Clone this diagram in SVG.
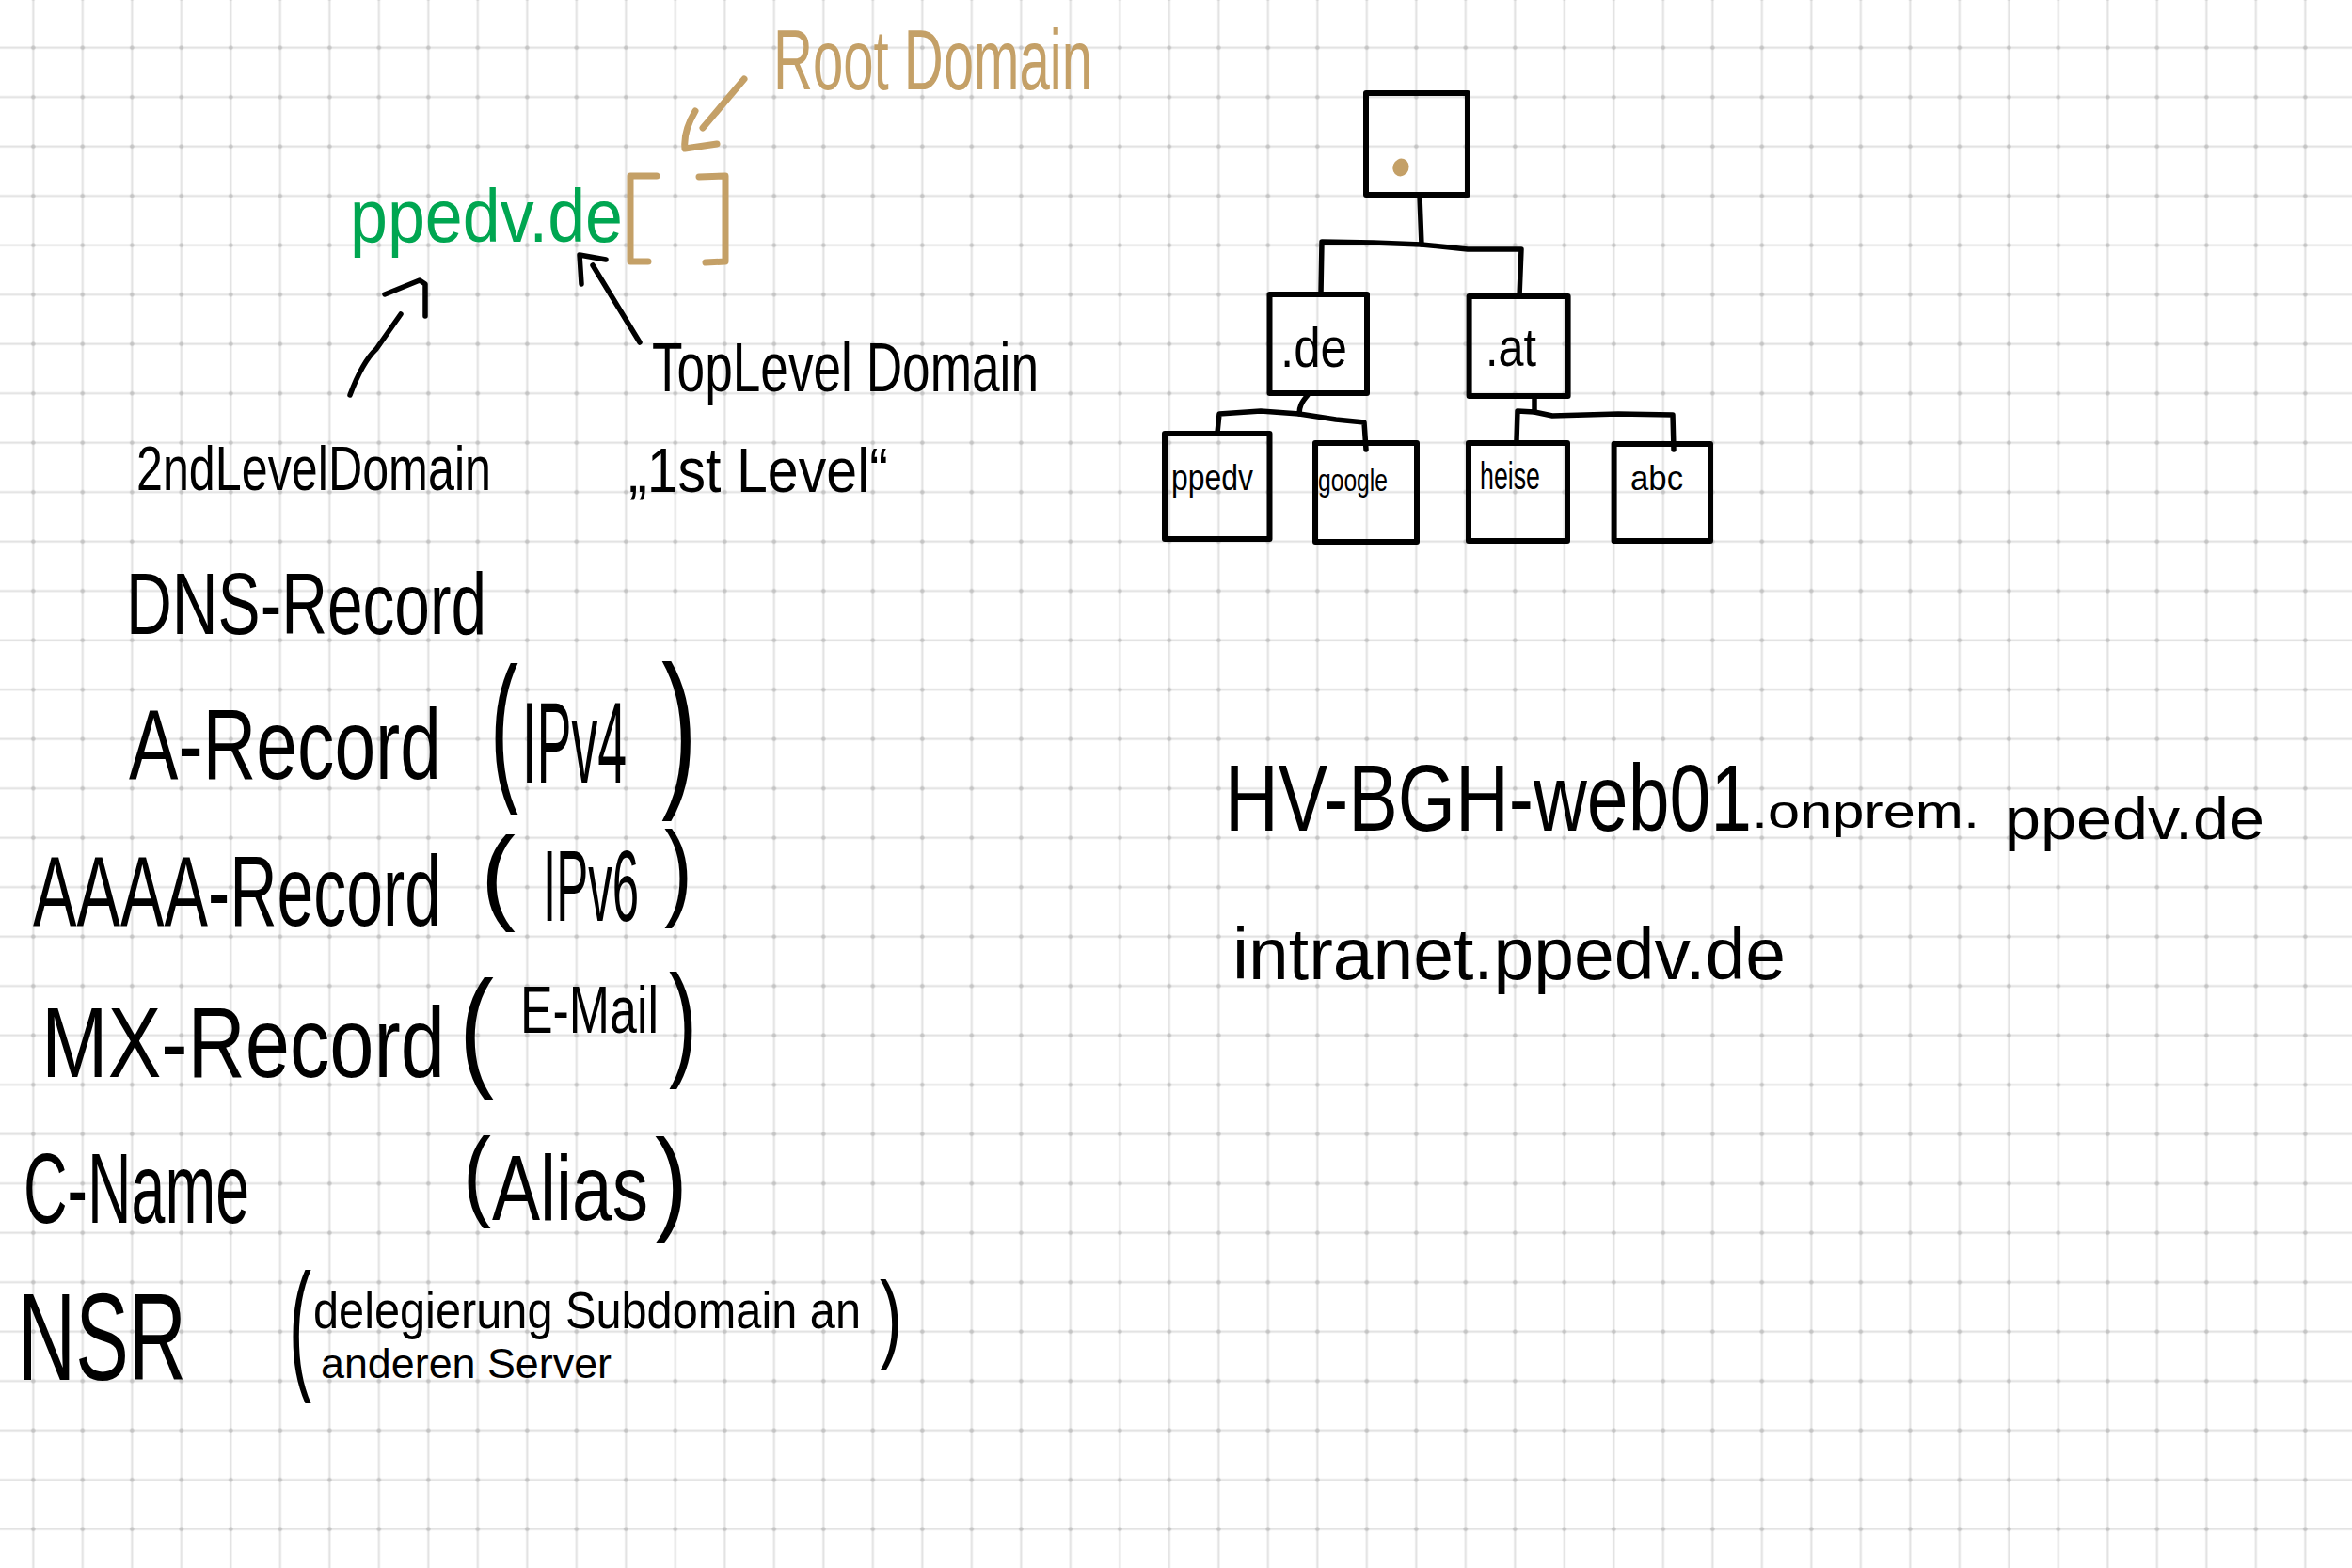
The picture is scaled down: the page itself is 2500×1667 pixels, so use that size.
<svg xmlns="http://www.w3.org/2000/svg" width="2500" height="1667" viewBox="0 0 2500 1667">
<style>
.h{font-family:"Liberation Sans",Arial,sans-serif;fill:#000}
.tan{fill:#c4a067}
.grn{fill:#00a651}
.box{fill:none;stroke:#000;stroke-width:6;stroke-linejoin:round;stroke-linecap:round}
.ln{fill:none;stroke:#000;stroke-width:5.5;stroke-linecap:round;stroke-linejoin:round}
.tanln{fill:none;stroke:#c4a067;stroke-width:7;stroke-linecap:round;stroke-linejoin:round}
</style>
<defs>
<pattern id="grid" x="9.05" y="24.45" width="52.5" height="52.5" patternUnits="userSpaceOnUse">
<path d="M0,26.25H52.5M26.25,0V52.5" stroke="#e0e0e0" stroke-width="2" fill="none"/>
<circle cx="26.25" cy="26.25" r="2.3" fill="#c4c4c4"/>
</pattern>
</defs>
<rect width="2500" height="1667" fill="#fff"/>
<rect width="2500" height="1667" fill="url(#grid)"/>

<g id="root-domain-label">
<text class="h tan" x="822" y="95" font-size="58" textLength="339" lengthAdjust="spacingAndGlyphs" transform="matrix(1 0 0 1.58 0 -55.1)">Root Domain</text>
</g>
<g id="domain-ppedv">
<text class="h grn" x="372" y="257" font-size="70.5" textLength="290" lengthAdjust="spacingAndGlyphs" transform="matrix(1 0 0 1.135 0 -34.7)">ppedv.de</text>
</g>
<g id="root-brackets">
<path class="tanln" d="M698,187 L670,187 L670,278 L689,278 M743,188 L771,187 L771,278 L750,279"/>
</g>
<g id="tld-label">
<text class="h" x="693" y="416" font-size="52.4" textLength="411" lengthAdjust="spacingAndGlyphs" transform="matrix(1 0 0 1.41 0 -170.6)">TopLevel Domain</text>
</g>
<g id="first-level-label">
<text class="h" x="668" y="523" font-size="59" textLength="276" lengthAdjust="spacingAndGlyphs" transform="matrix(1 0 0 1.117 0 -61.2)">„1st Level“</text>
</g>
<g id="second-level-label">
<text class="h" x="145" y="521" font-size="50.2" textLength="377" lengthAdjust="spacingAndGlyphs" transform="matrix(1 0 0 1.31 0 -161.5)">2ndLevelDomain</text>
</g>

<g id="connectors">
<path class="tanln" stroke-width="6" d="M791,84 L747,136 M739,118 Q726,140 728,158 L762,153"/>
<path class="ln" d="M372,420 Q385,385 400,371 L426,334 M409,313 L446,298 L452,302 L452,336"/>
<path class="ln" d="M680,364 L630,282 M618,302 L616,271 L644,276"/>
<path class="ln" d="M1509,209 L1511,260 L1460,258 L1405,257 L1404,312"/>
<path class="ln" d="M1511,260 L1560,265 L1617,265 L1615,315"/>
<path class="ln" d="M1390,420 C1383,428 1381,433 1381,440 L1340,437 L1296,440 L1294,460"/>
<path class="ln" d="M1381,440 L1420,446 L1450,449 L1452,478"/>
<path class="ln" d="M1631,422 L1631,438 L1613,437 L1612,468"/>
<path class="ln" d="M1631,438 L1650,442 L1720,440 L1778,441 L1779,478"/>
</g>

<g id="node-root">
<rect class="box" x="1452" y="99" width="108" height="108"/>
<ellipse cx="1489" cy="178" rx="8.5" ry="9.5" transform="rotate(20 1489 178)" fill="#c4a067"/>
</g>
<g id="node-de">
<rect class="box" x="1349.5" y="313" width="103.5" height="105"/>
<text class="h" x="1361" y="390" font-size="60" textLength="71" lengthAdjust="spacingAndGlyphs">.de</text>
</g>
<g id="node-at">
<rect class="box" x="1561.6" y="315" width="105" height="106"/>
<text class="h" x="1579" y="389" font-size="58" textLength="54" lengthAdjust="spacingAndGlyphs">.at</text>
</g>
<g id="node-ppedv">
<rect class="box" x="1238" y="461" width="111.5" height="112"/>
<text class="h" x="1245" y="521" font-size="38" textLength="87" lengthAdjust="spacingAndGlyphs">ppedv</text>
</g>
<g id="node-google">
<rect class="box" x="1398" y="471" width="108" height="105"/>
<text class="h" x="1401" y="522" font-size="34" textLength="74" lengthAdjust="spacingAndGlyphs">google</text>
</g>
<g id="node-heise">
<rect class="box" x="1561" y="471" width="105" height="104"/>
<text class="h" x="1573" y="520" font-size="40" textLength="64" lengthAdjust="spacingAndGlyphs">heise</text>
</g>
<g id="node-abc">
<rect class="box" x="1715.6" y="472" width="102.4" height="103"/>
<text class="h" x="1733" y="521" font-size="36" textLength="56" lengthAdjust="spacingAndGlyphs">abc</text>
</g>

<g id="dns-record-title">
<text class="h" x="134" y="674" font-size="67.5" textLength="383" lengthAdjust="spacingAndGlyphs" transform="matrix(1 0 0 1.363 0 -244.7)">DNS-Record</text>
</g>
<g id="a-record">
<text class="h" x="137" y="828" font-size="78.6" textLength="332" lengthAdjust="spacingAndGlyphs" transform="matrix(1 0 0 1.336 0 -278.2)">A-Record</text>
<text class="h" x="521" y="830" font-size="90" textLength="30" lengthAdjust="spacingAndGlyphs" transform="matrix(1 0 0 1.911 0 -756.1)">(</text>
<text class="h" x="555" y="832" font-size="55.5" textLength="111" lengthAdjust="spacingAndGlyphs" transform="matrix(1 0 0 2.2 0 -998.4)">IPv4</text>
<text class="h" x="703" y="835" font-size="114" textLength="38" lengthAdjust="spacingAndGlyphs" transform="matrix(1 0 0 1.6 0 -501)">)</text>
</g>
<g id="aaaa-record">
<text class="h" x="35" y="984" font-size="69.7" textLength="434" lengthAdjust="spacingAndGlyphs" transform="matrix(1 0 0 1.506 0 -497.9)">AAAA-Record</text>
<text class="h" x="511" y="968" font-size="112" textLength="37" lengthAdjust="spacingAndGlyphs">(</text>
<text class="h" x="577" y="979" font-size="51" textLength="102" lengthAdjust="spacingAndGlyphs" transform="matrix(1 0 0 2.11 0 -1086.7)">IPv6</text>
<text class="h" x="706" y="963" font-size="90" textLength="30" lengthAdjust="spacingAndGlyphs" transform="matrix(1 0 0 1.256 0 -246.5)">)</text>
</g>
<g id="mx-record">
<text class="h" x="44" y="1145" font-size="84.8" textLength="429" lengthAdjust="spacingAndGlyphs" transform="matrix(1 0 0 1.237 0 -271.4)">MX-Record</text>
<text class="h" x="488" y="1140" font-size="111" textLength="37" lengthAdjust="spacingAndGlyphs" transform="matrix(1 0 0 1.26 0 -296.4)">(</text>
<text class="h" x="553" y="1098" font-size="51.9" textLength="147" lengthAdjust="spacingAndGlyphs" transform="matrix(1 0 0 1.349 0 -383.2)">E-Mail</text>
<text class="h" x="711" y="1130" font-size="90" textLength="30" lengthAdjust="spacingAndGlyphs" transform="matrix(1 0 0 1.478 0 -540.1)">)</text>
</g>
<g id="cname-record">
<text class="h" x="25" y="1300" font-size="64.5" textLength="240" lengthAdjust="spacingAndGlyphs" transform="matrix(1 0 0 1.628 0 -816.4)">C-Name</text>
<text class="h" x="492" y="1284" font-size="90" textLength="30" lengthAdjust="spacingAndGlyphs" transform="matrix(1 0 0 1.178 0 -228.6)">(</text>
<text class="h" x="523" y="1297" font-size="76.6" textLength="166" lengthAdjust="spacingAndGlyphs" transform="matrix(1 0 0 1.279 0 -361.9)">Alias</text>
<text class="h" x="696" y="1297" font-size="105" textLength="35" lengthAdjust="spacingAndGlyphs" transform="matrix(1 0 0 1.162 0 -210.1)">)</text>
</g>
<g id="nsr-record">
<text class="h" x="19" y="1467" font-size="84.8" textLength="179" lengthAdjust="spacingAndGlyphs" transform="matrix(1 0 0 1.557 0 -817.1)">NSR</text>
<text class="h" x="307" y="1460" font-size="72" textLength="24" lengthAdjust="spacingAndGlyphs" transform="matrix(1 0 0 2.125 0 -1642.5)">(</text>
<text class="h" x="333" y="1412" font-size="48.8" textLength="582" lengthAdjust="spacingAndGlyphs" transform="matrix(1 0 0 1.148 0 -209)">delegierung Subdomain an</text>
<text class="h" x="341" y="1465" font-size="44" textLength="309" lengthAdjust="spacingAndGlyphs">anderen Server</text>
<text class="h" x="935" y="1435" font-size="72" textLength="24" lengthAdjust="spacingAndGlyphs" transform="matrix(1 0 0 1.43 0 -617.1)">)</text>
</g>

<g id="fqdn-example">
<text class="h" y="883" transform="matrix(1 0 0 1.276 0 -243.7)"><tspan x="1302" font-size="78.4" textLength="560" lengthAdjust="spacingAndGlyphs">HV-BGH-web01</tspan><tspan x="1862" y="880.6" font-size="39.2" textLength="242" lengthAdjust="spacingAndGlyphs">.onprem.</tspan><tspan x="2131" y="890" font-size="48.6" textLength="276" lengthAdjust="spacingAndGlyphs">ppedv.de</tspan></text>
</g>
<g id="intranet-example">
<text class="h" x="1310" y="1041" font-size="78" textLength="588" lengthAdjust="spacingAndGlyphs">intranet.ppedv.de</text>
</g>
</svg>
